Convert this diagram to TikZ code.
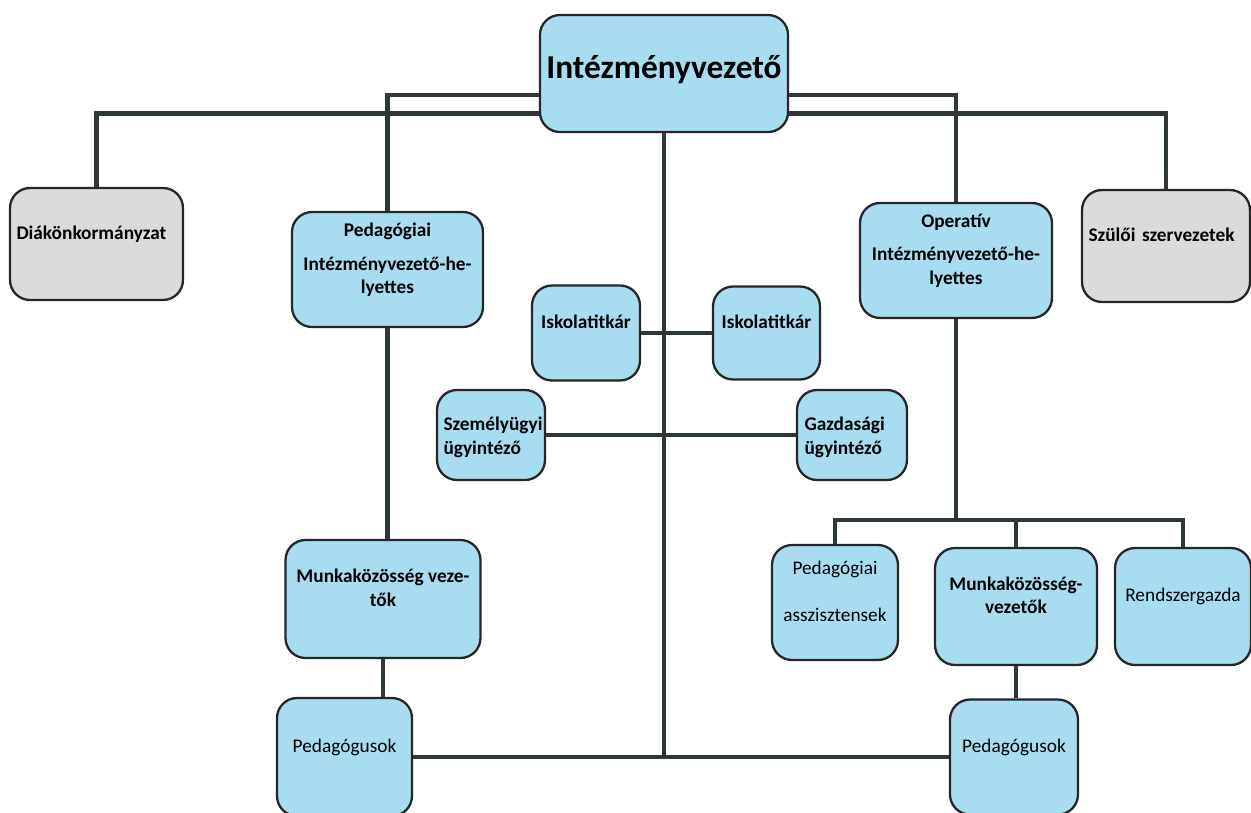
\documentclass[tikz,border=0pt]{standalone}
\usepackage{fontspec}
\setmainfont{Carlito}
\usetikzlibrary{positioning}

\definecolor{boxblue}{HTML}{A8DCF1}
\definecolor{boxgray}{HTML}{D9DBDD}
\definecolor{linedark}{HTML}{2E3838}

\begin{document}
\begin{tikzpicture}[
  x=0.02cm, y=-0.02cm,
  box/.style={rectangle, rounded corners=0.4cm, draw=black!85, fill=#1, line width=1.3pt, align=center, font=\fontsize{11}{13.5}\selectfont\bfseries, text depth=0.45cm, inner sep=0.13cm},
  box/.default=boxblue,
  topbox/.style={box, font=\fontsize{19}{23}\selectfont\bfseries, text depth=0.25cm},
  regtext/.style={font=\fontsize{11}{13.5}\selectfont},
  lefttext/.style={align=left, text width=#1},
  conn/.style={draw=linedark, line width=2.8pt},
]
  \useasboundingbox (0,0) rectangle (1251,812);

  % Head
  \node[topbox, minimum width=4.76cm, minimum height=2.34cm] (head) at (664,73.5) {Intézményvezető};

  % Second row
  \node[box=boxgray, lefttext=3.2cm, minimum width=3.46cm, minimum height=2.24cm] (diak) at (96.5,244) {Diákönkormányzat};
  \node[box, minimum width=3.82cm, minimum height=2.3cm] (pedh) at (387.5,269.5) {Pedagógiai\\[0.2cm]Intézményvezető-he-\\lyettes};
  \node[box, minimum width=3.84cm, minimum height=2.3cm] (operh) at (956,260.5) {Operatív\\[0.2cm]Intézményvezető-he-\\lyettes};
  \node[box=boxgray, lefttext=3.1cm, minimum width=3.36cm, minimum height=2.24cm] (szulo) at (1166,246) {Szülői szervezetek};

  % Staff around the centre line
  \node[box, minimum width=2.16cm, minimum height=1.9cm] (isk1) at (586,333) {Iskolatitkár};
  \node[box, minimum width=2.14cm, minimum height=1.86cm] (isk2) at (766.5,333) {Iskolatitkár};
  \node[box, lefttext=1.9cm, minimum width=2.16cm, minimum height=1.8cm] (szem) at (491,435) {Személyügyi\\ügyintéző};
  \node[box, lefttext=1.9cm, minimum width=2.2cm, minimum height=1.8cm] (gazd) at (852,435) {Gazdasági\\ügyintéző};

  % Lower left
  \node[box, minimum width=3.9cm, minimum height=2.36cm] (munkL) at (383,599) {Munkaközösség veze-\\tők};
  \node[box, regtext, minimum width=2.7cm, minimum height=2.36cm] (pedL) at (344.5,757) {Pedagógusok};

  % Lower right
  \coordinate (opbus) at (956,520);
  \node[box, regtext, minimum width=2.52cm, minimum height=2.3cm] (pedasz) at (835,602.5) {Pedagógiai\\[0.45cm]asszisztensek};
  \node[box, minimum width=3.24cm, minimum height=2.34cm] (munkR) at (1016,606.5) {Munkaközösség-\\vezetők};
  \node[box, regtext, minimum width=2.72cm, minimum height=2.34cm] (rendsz) at (1183,606.5) {Rendszergazda};
  \node[box, regtext, minimum width=2.56cm, minimum height=2.3cm] (pedR) at (1014,757) {Pedagógusok};

  % Connectors
  \draw[conn] ([yshift=-0.43cm]head.west) -| (pedh.north);
  \draw[conn] ([yshift=-0.8cm]head.west) -| (diak.north);
  \draw[conn] ([yshift=-0.43cm]head.east) -| (operh.north);
  \draw[conn] ([yshift=-0.8cm]head.east) -| (szulo.north);
  \draw[conn] (head.south) -- (head.south |- pedL.east);
  \draw[conn] (pedL.east) -- (pedR.west);
  \draw[conn] (isk1.east) -- (isk2.west);
  \draw[conn] (szem.east) -- (gazd.west);
  \draw[conn] (pedh.south) -- (pedh.south |- munkL.north);
  \draw[conn] (munkL.south) -- (munkL.south |- pedL.north);
  \draw[conn] (operh.south) -- (opbus);
  \draw[conn] (pedasz.north) |- (rendsz.north |- opbus) -- (rendsz.north);
  \draw[conn] (munkR.north) -- (munkR.north |- opbus);
  \draw[conn] (munkR.south) -- (munkR.south |- pedR.north);
\end{tikzpicture}
\end{document}
